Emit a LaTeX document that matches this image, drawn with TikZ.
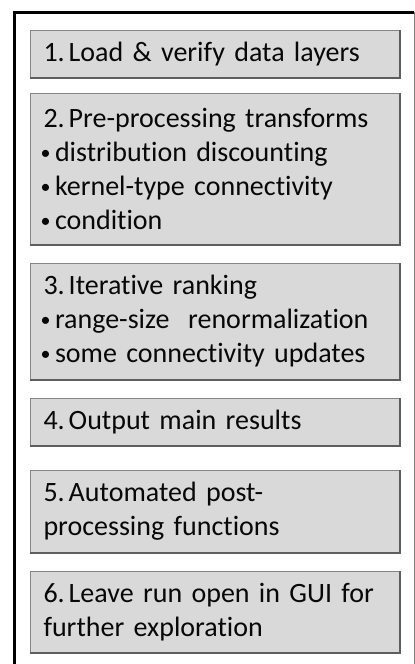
\documentclass[tikz,border=0pt]{standalone}
\usepackage{fontspec}
\setmainfont{Carlito}[Ligatures=NoCommon]
\definecolor{boxfill}{HTML}{D9D9D9}
\definecolor{boxedge}{HTML}{858585}
\definecolor{boxshade}{HTML}{5E5E5E}
\definecolor{textcol}{HTML}{080808}
\newcommand\bul{\makebox[15pt][l]{\hspace{0.5pt}\raisebox{2.5pt}{\fontsize{20}{20}\selectfont •}}}
\frenchspacing
\hyphenpenalty=10000
\begin{document}
\begin{tikzpicture}[x=1pt,y=-1pt,
  box/.style={draw=boxedge, fill=boxfill, line width=1pt, anchor=north west,
    minimum width=369pt, text width=350pt, inner xsep=9.5pt, inner ysep=0pt,
    align=left, font=\fontsize{28}{34}\selectfont, text=textcol},
  shade/.style={draw=boxshade, line width=1.6pt},
  frame/.style={draw=black, line width=3pt},
  frameright/.style={draw=gray, line width=1pt}]
\useasboundingbox (0,0) rectangle (415,664);
\coordinate (fa) at (14,664);
\coordinate (fb) at (14,12);
\coordinate (fc) at (414,12);
\coordinate (fd) at (414,664);
\draw[frame] (fa) -- (fb) -- (fc);
\draw[frameright] (fc) -- (fd);
\node[box, minimum height=47pt] (b1) at (30,30) {\hspace{3.5pt}1.\hspace{4pt}Load \& verify data layers};
\node[box, minimum height=151pt] (b2) at (30,93) {\hspace{3.5pt}2.\hspace{4pt}Pre-processing transforms\\\bul distribution discounting\\\bul kernel-type connectivity\\\bul condition};
\node[box, minimum height=116pt] (b3) at (30,263) {\hspace{3.5pt}3.\hspace{4pt}Iterative ranking\\\bul range-size\ \ renormalization\\\bul some connectivity updates};
\node[box, minimum height=47pt] (b4) at (30,398) {\hspace{3.5pt}4.\hspace{4pt}Output main results};
\node[box, minimum height=82pt] (b5) at (30,470) {\hspace{3.5pt}5.\hspace{4pt}Automated post-\\\hspace*{3.5pt}processing functions};
\node[box, minimum height=81pt] (b6) at (30,571) {\hspace{3.5pt}6.\hspace{4pt}Leave run open in GUI for\\\hspace*{3.5pt}further exploration};
\foreach \b in {b1,b2,b3,b4,b5,b6}{
  \draw[shade] (\b.north east) -- (\b.south east) -- (\b.south west);
}
\end{tikzpicture}
\end{document}
